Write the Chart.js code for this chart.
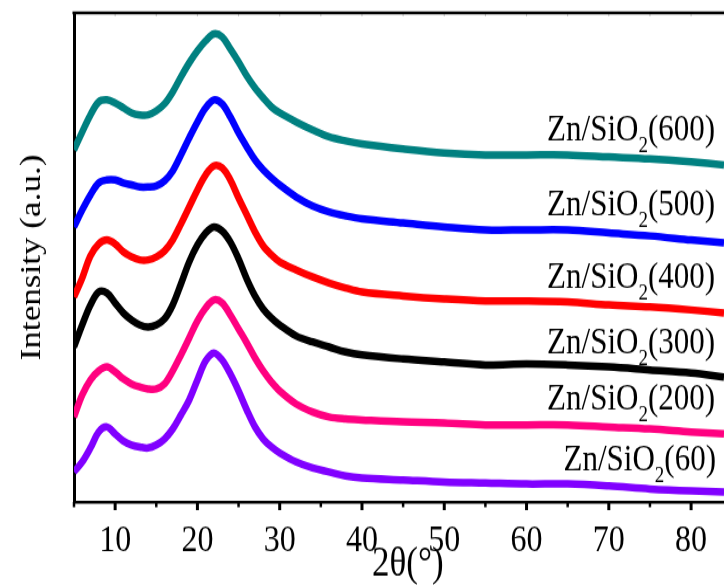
<!DOCTYPE html>
<html>
<head>
<meta charset="utf-8">
<script src="https://cdn.jsdelivr.net/npm/chart.js@4.4.1/dist/chart.umd.min.js"></script>
<style>
  html, body { margin: 0; padding: 0; background: #fff; overflow: hidden; }
  /* the original figure is stretched vertically, so the canvas is drawn at 724x500 and shown at 724x585 */
  #xrd { display: block; width: 724px !important; height: 585px !important; }
</style>
</head>
<body>
<canvas id="xrd" width="724" height="500"></canvas>
<script>
const twoTheta = [5, 6, 7, 8, 9, 10, 11, 12, 13, 14, 15, 16, 17, 18, 19, 20, 21, 22, 23, 24,
  25, 26, 27, 28, 29, 30, 32, 34, 36, 38, 40, 45, 50, 55, 60, 65, 70, 75, 80, 84];

// stacked intensities (a.u., offsets included)
const zn600 = [352, 370, 387, 400, 402, 399, 394, 389, 387, 387, 391, 398, 410, 425, 439, 451, 461, 468, 465, 453,
  440, 426, 414, 404, 395, 389, 380, 372, 365, 361, 358, 353, 349, 347, 347, 347, 345, 343, 340, 337];
const zn500 = [275, 292, 307, 319, 322, 322, 319, 317, 315, 315, 316, 321, 331, 347, 364, 380, 394, 402, 398, 385,
  369, 355, 342, 332, 324, 317, 305, 296, 290, 286, 283, 279, 275, 272, 272, 272, 269, 266, 262, 259];
const zn400 = [205, 224, 246, 258, 262, 258, 250, 245, 242, 242, 245, 251, 262, 278, 295, 312, 327, 336, 334, 322,
  304, 287, 270, 256, 247, 240, 232, 225, 219, 214, 210, 206, 203, 201, 201, 200, 197, 195, 192, 189];
const zn300 = [155, 177, 197, 210, 209, 199, 189, 182, 177, 175, 177, 183, 197, 218, 240, 257, 269, 275, 271, 260,
  243, 223, 206, 193, 184, 177, 166, 160, 155, 150, 147, 143, 140, 137, 138, 137, 135, 132, 129, 125];
const zn200 = [85, 107, 122, 131, 135, 130, 123, 118, 115, 113, 113, 118, 131, 147, 164, 181, 194, 202, 199, 187,
  173, 159, 144, 131, 120, 111, 98, 90, 85, 83, 82, 80, 79, 77, 77, 77, 75, 73, 70, 68];
const zn60 = [30, 40, 54, 70, 75, 68, 61, 57, 55, 54, 57, 63, 73, 87, 102, 122, 141, 149, 142, 128,
  111, 92, 75, 63, 55, 49, 40, 34, 30, 26, 24, 22, 20, 19, 18, 18, 16, 13, 11, 10];

const sampleNames = ['600', '500', '400', '300', '200', '60'];
const sampleSeries = [zn600, zn500, zn400, zn300, zn200, zn60];
const sampleColors = ['#008080', '#0000ff', '#ff0000', '#000000', '#ff0080', '#8000ff'];

const xTickLabels = [10, 20, 30, 40, 50, 60, 70, 80];
const xMinorTicks = [5, 15, 25, 35, 45, 55, 65, 75];

// where each curve name sits (2theta of its left edge, intensity of its baseline)
const labelAt = [62.5, 62.5, 62.5, 62.5, 62.5, 64.5];
const labelLevel = [362, 287, 214, 149, 92, 32];

const serif = '"Liberation Serif", "Times New Roman", serif';

const curveLabels = {
  id: 'curveLabels',
  afterDatasetsDraw(chart) {
    const { ctx, scales: { x, y } } = chart;
    ctx.save();
    ctx.fillStyle = '#000';
    ctx.textBaseline = 'alphabetic';
    ctx.textAlign = 'left';
    sampleNames.forEach((name, i) => {
      let px = x.getPixelForValue(labelAt[i]);
      const py = y.getPixelForValue(labelLevel[i]);
      ctx.font = '31px ' + serif;
      ctx.fillText('Zn/SiO', px, py);
      px += ctx.measureText('Zn/SiO').width;
      ctx.font = '19px ' + serif;
      ctx.fillText('2', px, py + 10);
      px += ctx.measureText('2').width;
      ctx.font = '31px ' + serif;
      ctx.fillText('(' + name + ')', px, py);
    });
    ctx.restore();
  }
};

// top frame line and the tick marks (major / minor differ in length)
const frame = {
  id: 'frame',
  afterDraw(chart) {
    const { ctx, chartArea: a, scales: { x } } = chart;
    ctx.save();
    ctx.strokeStyle = '#c8c8c8';
    ctx.lineWidth = 1;
    xTickLabels.concat(xMinorTicks).forEach(v => {
      if (v === 5) return;
      const px = x.getPixelForValue(v);
      ctx.beginPath();
      ctx.moveTo(px, a.top);
      ctx.lineTo(px, a.top + 3);
      ctx.stroke();
    });
    ctx.strokeStyle = '#000';
    ctx.lineWidth = 2.6;
    ctx.beginPath();
    ctx.moveTo(a.left - 1.5, a.top);
    ctx.lineTo(a.right, a.top);
    ctx.stroke();
    xTickLabels.concat(xMinorTicks).forEach(v => {
      const major = v % 10 === 0;
      const px = x.getPixelForValue(v);
      ctx.lineWidth = major ? 3 : 2.5;
      ctx.beginPath();
      ctx.moveTo(px, a.bottom);
      ctx.lineTo(px, a.bottom + (major ? 7 : 4.5));
      ctx.stroke();
    });
    ctx.restore();
  }
};

new Chart(document.getElementById('xrd'), {
  type: 'line',
  data: {
    datasets: sampleSeries.map((vals, i) => ({
      label: 'Zn/SiO2(' + sampleNames[i] + ')',
      data: twoTheta.map((t, j) => ({ x: t, y: vals[j] })),
      borderColor: sampleColors[i],
      borderWidth: 6.5,
      pointRadius: 0,
      tension: 0.35,
      fill: false
    }))
  },
  options: {
    responsive: false,
    animation: false,
    devicePixelRatio: 1,
    layout: { padding: { top: 11, right: 0, left: 0, bottom: 0 } },
    plugins: { legend: { display: false }, tooltip: { enabled: false } },
    scales: {
      x: {
        type: 'linear',
        min: 5,
        max: 84,
        grid: { display: false },
        border: { display: true, color: '#000', width: 2.6 },
        afterBuildTicks: s => { s.ticks = xTickLabels.map(v => ({ value: v })); },
        ticks: {
          autoSkip: false,
          maxRotation: 0,
          padding: 6,
          color: '#000',
          font: { family: serif, size: 32 },
          callback: v => String(v)
        },
        title: {
          display: true,
          text: '\u20022θ(°)',
          color: '#000',
          font: { family: serif, size: 35, lineHeight: 1.0 },
          padding: { top: 0, bottom: 0 }
        },
        afterFit: s => { s.height = 71; }
      },
      y: {
        min: 0,
        max: 489,
        grid: { display: false },
        border: { display: true, color: '#000', width: 3 },
        ticks: { display: false },
        title: {
          display: true,
          text: 'Intensity (a.u.)',
          color: '#000',
          font: { family: serif, size: 30, lineHeight: 1.2 },
          padding: { top: 14, bottom: 0 }
        },
        afterFit: s => { s.width = 74; }
      }
    }
  },
  plugins: [curveLabels, frame]
});
</script>
</body>
</html>
